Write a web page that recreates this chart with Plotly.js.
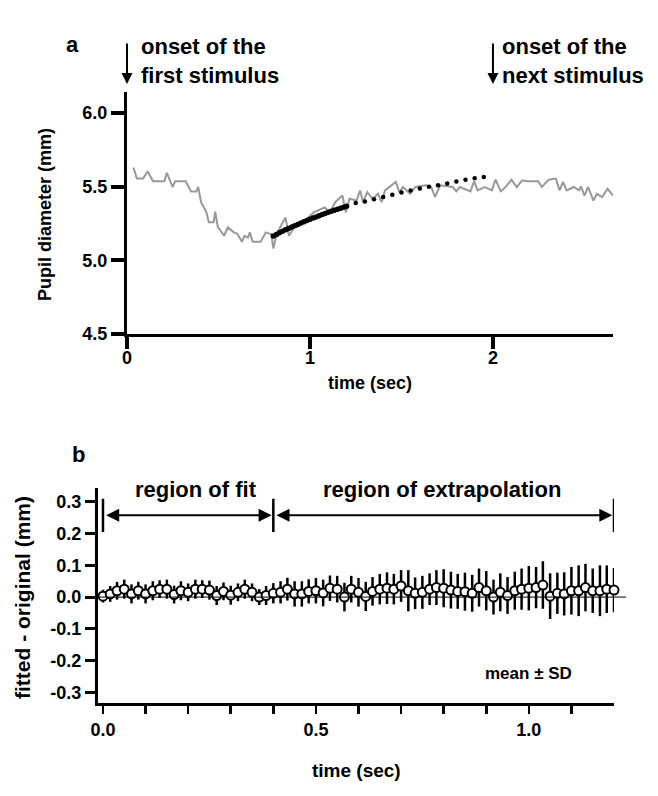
<!DOCTYPE html>
<html><head><meta charset="utf-8">
<script src="https://cdn.plot.ly/plotly-3.0.1.min.js"></script>
<style>body{margin:0;background:#fff}#plot{width:658px;height:796px}</style>
</head><body><div id="plot"></div>
<script>
// ---- Panel a: measured pupil trace (gray) ----
const grayT = [0.035,0.054,0.088,0.113,0.142,0.204,0.218,0.249,0.263,0.321,0.350,0.379,0.389,0.405,0.434,0.447,0.473,0.482,0.496,0.531,0.551,0.584,0.603,0.628,0.642,0.661,0.671,0.687,0.730,0.759,0.788,0.800,0.817,0.866,0.885,0.914,0.973,1.021,1.080,1.109,1.138,1.177,1.196,1.216,1.255,1.274,1.290,1.313,1.342,1.372,1.391,1.410,1.469,1.488,1.508,1.547,1.576,1.634,1.663,1.683,1.712,1.780,1.800,1.819,1.877,1.897,1.916,1.955,1.994,2.014,2.043,2.072,2.101,2.130,2.160,2.189,2.247,2.267,2.305,2.344,2.364,2.383,2.403,2.442,2.471,2.481,2.500,2.520,2.549,2.568,2.597,2.626,2.656];
const grayV = [5.63,5.555,5.555,5.605,5.537,5.537,5.594,5.498,5.537,5.537,5.468,5.468,5.498,5.395,5.326,5.258,5.258,5.331,5.228,5.167,5.224,5.19,5.18,5.126,5.167,5.155,5.19,5.126,5.126,5.19,5.178,5.08,5.178,5.292,5.167,5.224,5.27,5.326,5.36,5.326,5.395,5.44,5.326,5.418,5.406,5.475,5.395,5.463,5.418,5.452,5.395,5.475,5.532,5.463,5.498,5.452,5.498,5.509,5.498,5.43,5.509,5.498,5.468,5.498,5.468,5.537,5.475,5.498,5.475,5.548,5.468,5.502,5.548,5.498,5.543,5.537,5.537,5.498,5.548,5.555,5.475,5.532,5.475,5.498,5.475,5.502,5.44,5.498,5.406,5.452,5.43,5.486,5.44];
// fitted curve, region of fit (dense dots)
const fitT = [0.800,0.817,0.833,0.850,0.867,0.883,0.900,0.917,0.933,0.950,0.967,0.983,1.000,1.017,1.033,1.050,1.067,1.083,1.100,1.117,1.133,1.150,1.167,1.183,1.200];
const fitV = [5.165,5.176,5.187,5.197,5.207,5.217,5.226,5.235,5.244,5.253,5.262,5.270,5.279,5.287,5.295,5.303,5.311,5.318,5.326,5.333,5.340,5.347,5.354,5.361,5.368];
// fitted curve, extrapolated (sparse dots)
const extT = [1.25,1.30,1.35,1.40,1.45,1.50,1.55,1.60,1.65,1.70,1.75,1.80,1.85,1.90,1.95];
const extV = [5.39,5.40,5.415,5.43,5.445,5.46,5.475,5.488,5.50,5.51,5.522,5.535,5.547,5.557,5.566];
const aYTicks = [4.5,5.0,5.5,6.0];
const aYLabels = ['4.5','5.0','5.5','6.0'];
const aXTicks = [0,1,2];
const aXLabels = ['0','1','2'];

// ---- Panel b: fitted - original, mean ± SD ----
const bT = [0,0.017,0.033,0.05,0.067,0.083,0.1,0.117,0.133,0.15,0.167,0.183,0.2,0.217,0.233,0.25,0.267,0.283,0.3,0.317,0.333,0.35,0.367,0.383,0.4,0.417,0.433,0.45,0.467,0.483,0.5,0.517,0.533,0.55,0.567,0.583,0.6,0.617,0.633,0.65,0.667,0.683,0.7,0.717,0.733,0.75,0.767,0.783,0.8,0.817,0.833,0.85,0.867,0.883,0.9,0.917,0.933,0.95,0.967,0.983,1.0,1.017,1.033,1.05,1.067,1.083,1.1,1.117,1.133,1.15,1.167,1.183,1.2];
const bMean = [0.003,0.01,0.02,0.025,0.01,0.02,0.01,0.02,0.025,0.025,0.008,0.02,0.015,0.025,0.025,0.022,0.005,0.018,0.006,0.015,0.025,0.015,0.0,0.005,0.012,
  0.015,0.025,0.01,0.01,0.018,0.02,0.013,0.028,0.025,0.0,0.025,0.015,0.002,0.018,0.025,0.028,0.025,0.035,0.02,0.012,0.015,0.025,0.03,0.028,0.022,0.018,0.017,0.012,0.03,0.02,0.0,0.015,0.005,0.02,0.025,0.028,0.03,0.038,0.003,0.012,0.01,0.02,0.02,0.03,0.02,0.02,0.025,0.022];
const bSD = [0.02,0.025,0.028,0.03,0.03,0.028,0.03,0.03,0.028,0.03,0.028,0.03,0.028,0.03,0.028,0.03,0.03,0.028,0.03,0.028,0.03,0.028,0.025,0.03,0.032,
  0.035,0.036,0.04,0.04,0.038,0.04,0.042,0.04,0.042,0.045,0.042,0.045,0.046,0.045,0.048,0.05,0.048,0.05,0.065,0.05,
  0.052,0.05,0.055,0.06,0.058,0.055,0.06,0.058,0.06,0.062,0.055,0.06,0.058,0.06,0.065,0.07,0.065,0.075,0.072,0.065,
  0.068,0.075,0.08,0.075,0.07,0.08,0.075,0.07];
const bYTicks = [-0.3,-0.2,-0.1,0,0.1,0.2,0.3];
const bYLabels = ['-0.3','-0.2','-0.1','0.0','0.1','0.2','0.3'];
const bXTicks = [0,0.1,0.2,0.3,0.4,0.5,0.6,0.7,0.8,0.9,1.0,1.1];
const bXLabels = ['0.0','','','','','0.5','','','','','1.0',''];
const fitEnd = 0.4, extrapEnd = 1.2;

const W = 658, H = 796;
const px = v => v / W, py = v => 1 - v / H;
const FONT = 'Liberation Sans, Arial, sans-serif';
const bold = s => '<b>' + s + '</b>';
// text annotation centred on a pixel position
const txt = (s, x, y, size, extra) => Object.assign({text: bold(s), xref: 'paper', yref: 'paper', x: px(x), y: py(y),
  xanchor: 'center', yanchor: 'middle', showarrow: false, font: {size: size, color: '#000'}}, extra || {});

const traces = [
  {x: grayT, y: grayV, type: 'scatter', mode: 'lines', line: {color: '#999999', width: 2}, xaxis: 'x', yaxis: 'y', hoverinfo: 'skip'},
  {x: fitT, y: fitV, type: 'scatter', mode: 'markers', marker: {color: '#000', size: 5.5}, xaxis: 'x', yaxis: 'y'},
  {x: extT, y: extV, type: 'scatter', mode: 'markers', marker: {color: '#000', size: 4.5}, xaxis: 'x', yaxis: 'y'},
  {x: bT, y: bMean, type: 'scatter', mode: 'markers', cliponaxis: false,
   error_y: {type: 'data', array: bSD, visible: true, color: '#000', thickness: 2.5, width: 0},
   marker: {symbol: 'circle', size: 9, color: '#fff', line: {color: '#000', width: 2}},
   xaxis: 'x2', yaxis: 'y2'}
];

const axBase = {showgrid: false, zeroline: false, showline: true, linecolor: '#000', ticks: 'outside', tickcolor: '#000',
  tickmode: 'array', fixedrange: true, tickfont: {family: FONT, size: 18, color: '#000'}};

const layout = {
  width: W, height: H, margin: {l: 0, r: 0, t: 0, b: 0}, showlegend: false,
  paper_bgcolor: '#fff', plot_bgcolor: '#fff',
  font: {family: FONT, color: '#000'},
  xaxis: Object.assign({}, axBase, {domain: [px(127), px(613)], range: [0, 2.656], anchor: 'y',
    tickvals: aXTicks, ticktext: aXLabels.map(bold), ticklen: 12, tickwidth: 4, linewidth: 3, ticklabelstandoff: -7}),
  yaxis: Object.assign({}, axBase, {domain: [py(334), py(92)], range: [4.5, 6.143], anchor: 'x',
    tickvals: aYTicks, ticktext: aYLabels.map(bold), ticklen: 13, tickwidth: 4, linewidth: 3}),
  xaxis2: Object.assign({}, axBase, {domain: [px(98), px(614)], range: [-0.0117, 1.2], anchor: 'y2',
    tickvals: bXTicks, ticktext: bXLabels.map(bold), ticklen: 8, tickwidth: 2.5, linewidth: 3}),
  yaxis2: Object.assign({}, axBase, {domain: [py(703), py(488)], range: [-0.334, 0.344], anchor: 'x2',
    tickvals: bYTicks, ticktext: bYLabels.map(bold), ticklen: 10, tickwidth: 3, linewidth: 3}),
  shapes: [
    {type: 'line', xref: 'paper', yref: 'y2', x0: px(98), x1: px(626), y0: 0, y1: 0, line: {color: '#000', width: 1}},
    {type: 'line', xref: 'x2', yref: 'y2', x0: 0, x1: 0, y0: 0.205, y1: 0.31, line: {color: '#000', width: 2.5}},
    {type: 'line', xref: 'x2', yref: 'y2', x0: fitEnd, x1: fitEnd, y0: 0.205, y1: 0.31, line: {color: '#000', width: 2.5}},
    {type: 'line', xref: 'x2', yref: 'y2', x0: extrapEnd, x1: extrapEnd, y0: 0.205, y1: 0.31, line: {color: '#000', width: 2.5}}
  ],
  annotations: [
    txt('a', 72, 45, 22),
    txt('b', 78, 455, 22),
    // onset arrows
    {text: '', xref: 'x', yref: 'paper', x: 0, y: py(84), ax: 0, ay: -42, showarrow: true, arrowhead: 2, arrowsize: 1.1, arrowwidth: 2, arrowcolor: '#000'},
    {text: '', xref: 'x', yref: 'paper', x: 2, y: py(84), ax: 0, ay: -42, showarrow: true, arrowhead: 2, arrowsize: 1.1, arrowwidth: 2, arrowcolor: '#000'},
    txt('onset of the<br>first stimulus', 139, 61, 22, {xanchor: 'left', align: 'left'}),
    txt('onset of the<br>next stimulus', 500, 61, 22, {xanchor: 'left', align: 'left'}),
    // axis titles
    txt('Pupil diameter (mm)', 45, 215, 18, {textangle: -90}),
    txt('time (sec)', 370, 383, 18),
    txt('fitted - original (mm)', 22, 598, 21, {textangle: -90}),
    txt('time (sec)', 357, 770, 19),
    // region labels
    txt('region of fit', 196, 490, 22),
    txt('region of extrapolation', 442, 490, 22),
    {text: '', xref: 'x2', yref: 'y2', axref: 'x2', ayref: 'y2', x: fitEnd - 0.004, y: 0.258, ax: 0.004, ay: 0.258,
     showarrow: true, arrowside: 'end+start', arrowhead: 2, startarrowhead: 2, arrowsize: 1.3, startarrowsize: 1.3, arrowwidth: 2, arrowcolor: '#000'},
    {text: '', xref: 'x2', yref: 'y2', axref: 'x2', ayref: 'y2', x: extrapEnd - 0.004, y: 0.258, ax: fitEnd + 0.004, ay: 0.258,
     showarrow: true, arrowside: 'end+start', arrowhead: 2, startarrowhead: 2, arrowsize: 1.3, startarrowsize: 1.3, arrowwidth: 2, arrowcolor: '#000'},
    txt('mean ± SD', 528, 673, 17)
  ]
};

Plotly.newPlot('plot', traces, layout, {staticPlot: true, displayModeBar: false});
</script>
</body></html>
